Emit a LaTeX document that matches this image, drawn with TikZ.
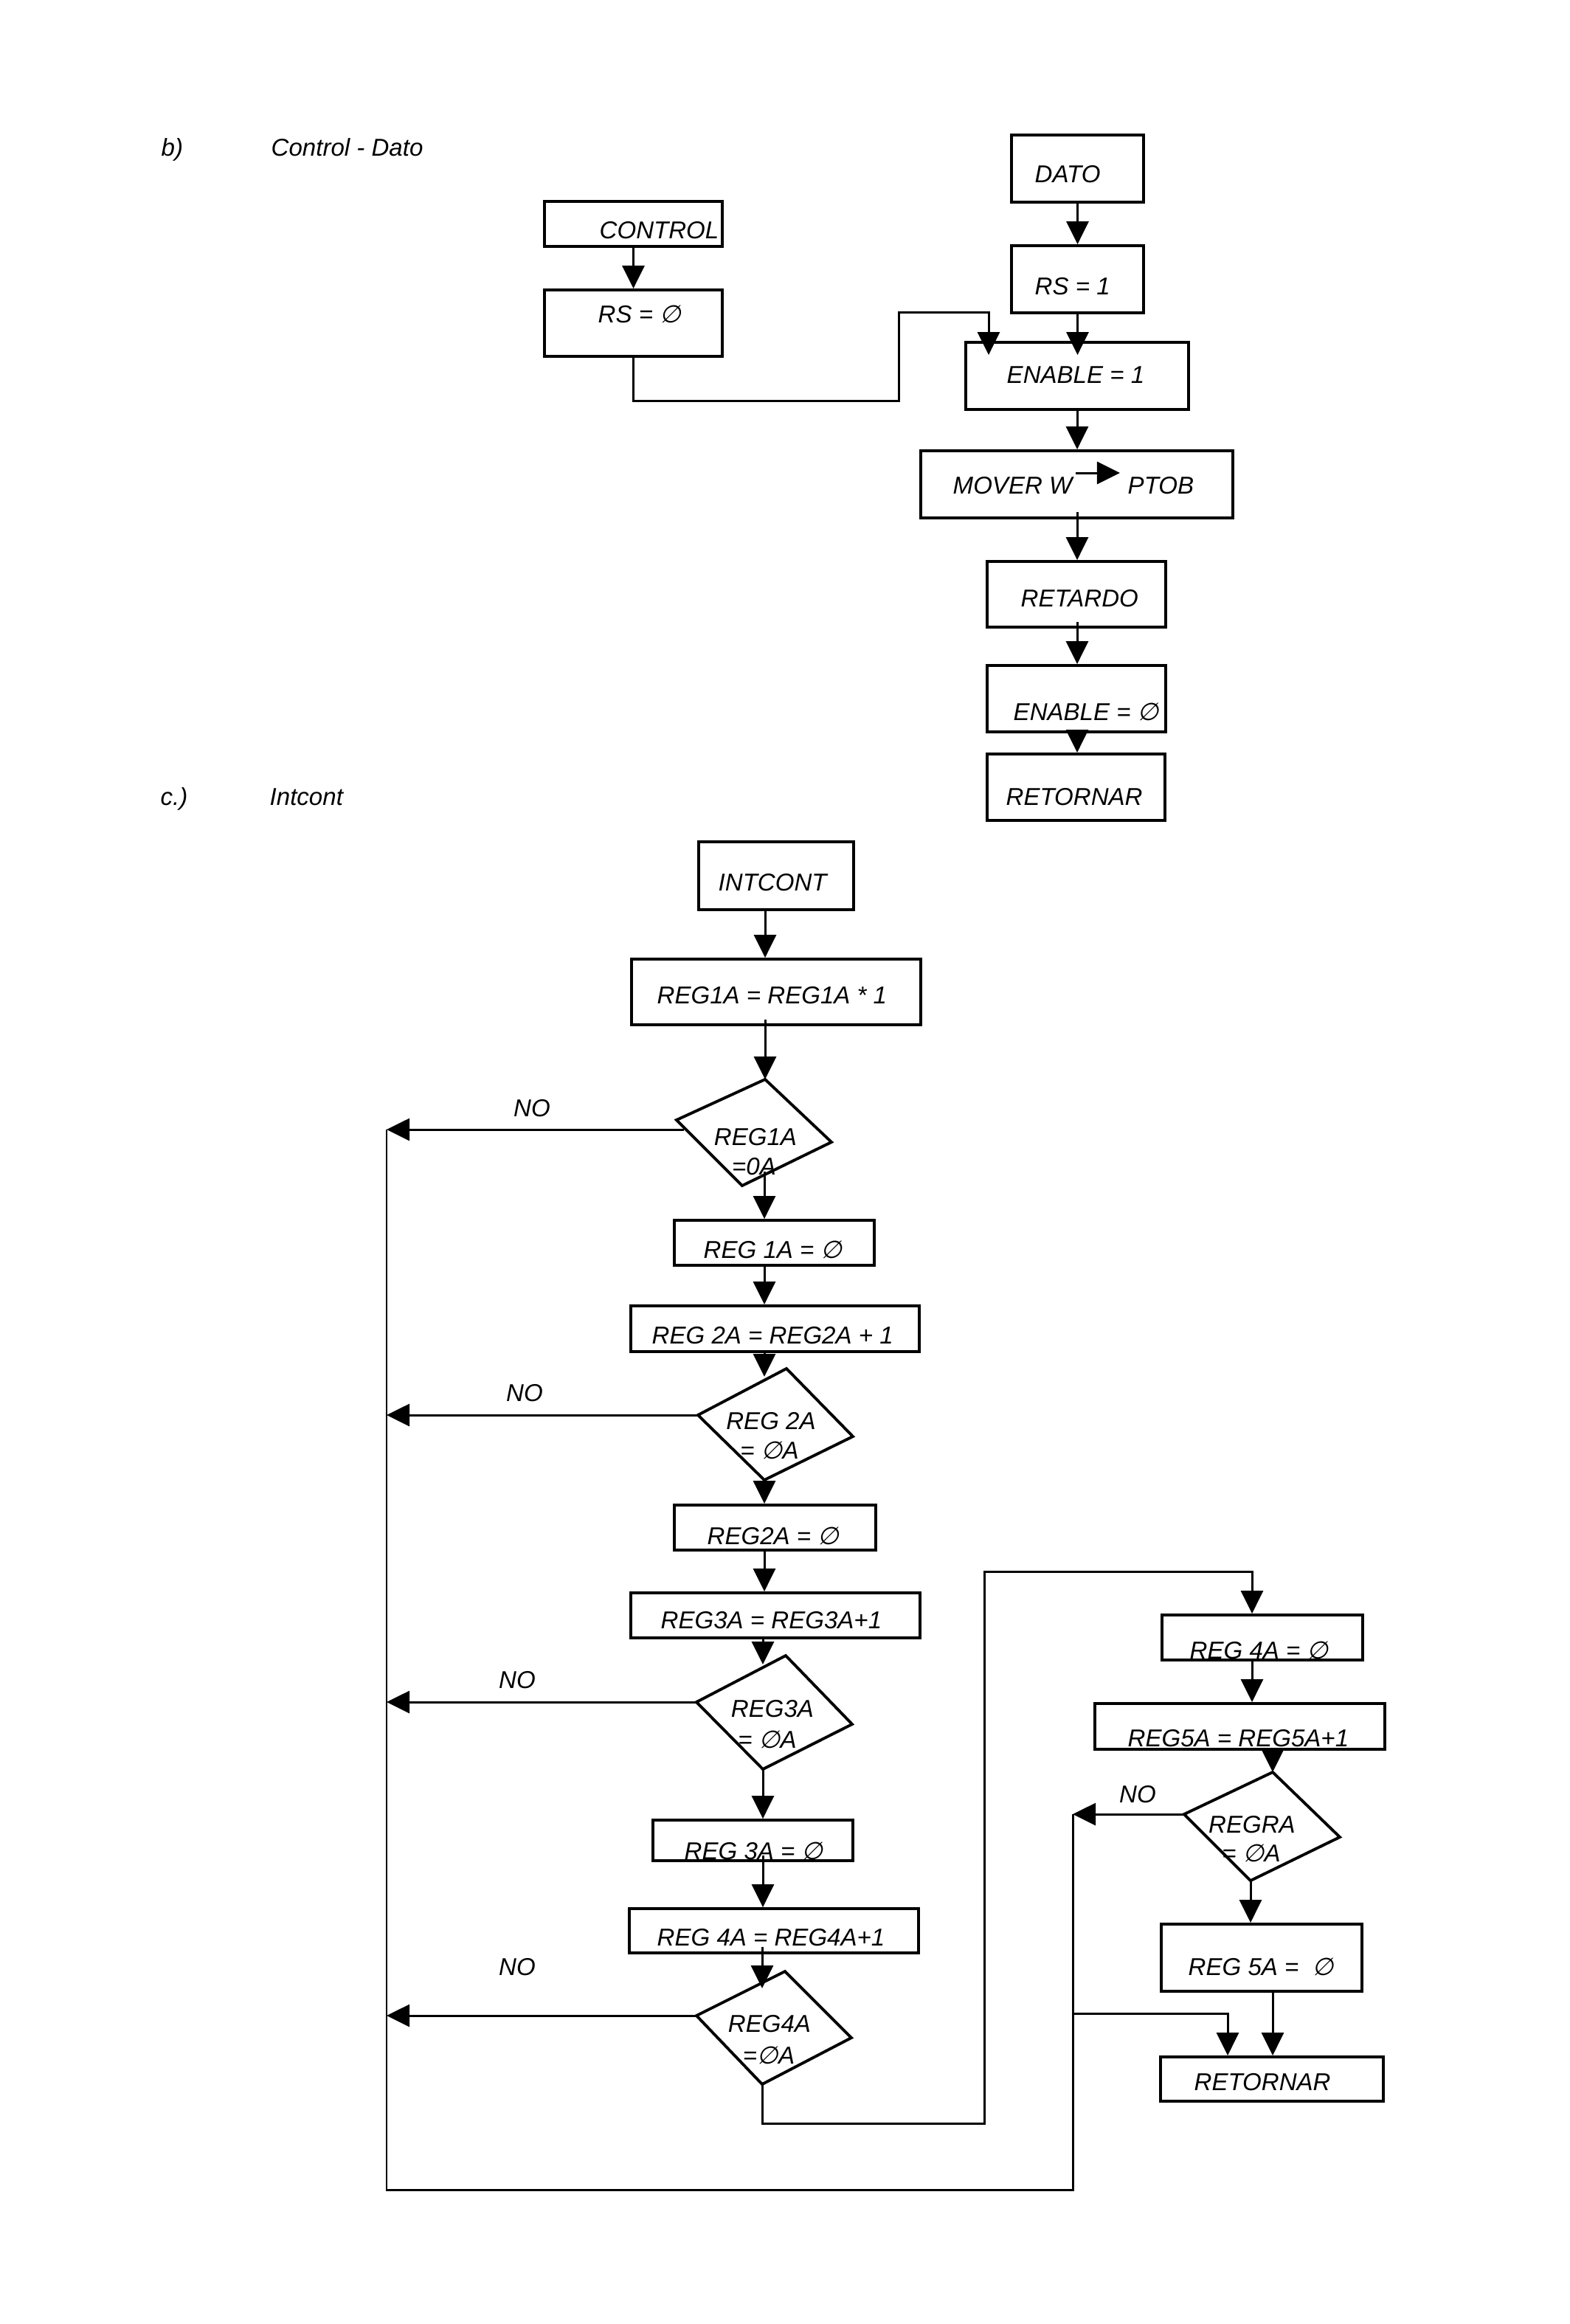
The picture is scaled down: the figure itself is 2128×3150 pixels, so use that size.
\documentclass[tikz,border=0pt]{standalone}
\usepackage{fontspec}
\setmainfont{Liberation Sans}
\newfontfamily\dvs{DejaVu Sans}[FakeSlant=0.2]
\usetikzlibrary{arrows.meta,calc,fit}
\newcommand\vz{{\dvs ∅}}
\begin{document}
\begin{tikzpicture}[x=0.01cm,y=-0.01cm,
  box/.style={draw,line width=1.1pt,inner sep=0pt},
  txt/.style={font=\fontsize{9.4}{11}\selectfont\itshape,inner sep=0pt,text height=6.8pt,text depth=0pt,anchor=west},
  ctxt/.style={txt,anchor=center},
  arr/.style={line width=0.85pt,-{Triangle[length=0.31cm,width=0.30cm]}},
  ln/.style={line width=0.85pt},
  dia/.style={line width=1.1pt,line join=miter}]
\fill[white] (0,0) rectangle (2128,3150);
\useasboundingbox (0,0) rectangle (2128,3150);

% ---------- b) Control - Dato ----------
\node[txt] (hb) at (218,200) {b)};
\node[txt] (hbt) at (367,200) {Control - Dato};

\node[box,fit={(738,273)(979,334)}] (ctrl) {};
\node[txt] (tctrl) at (812,312) {CONTROL};
\node[box,fit={(738,393)(979,483)}] (rs0) {};
\node[txt] (trs0) at (810,426) {RS = \vz};

\node[box,fit={(1371,183)(1550,274)}] (dato) {};
\node[txt] (tdato) at (1402,236) {DATO};
\node[box,fit={(1371,333)(1550,424)}] (rs1) {};
\node[txt] (trs1) at (1402,388) {RS = 1};
\node[box,fit={(1309,464)(1611,555)}] (en1) {};
\node[txt] (ten1) at (1364,508) {ENABLE = 1};
\node[box,fit={(1248,611)(1671,702)}] (mov) {};
\node[txt] (tmov) at (1291,658) {MOVER W};
\node[txt] (tptob) at (1528,658) {PTOB};
\coordinate (mvA) at (1458,641);
\coordinate (mvB) at (1518,641);
\draw[arr] (mvA) -- (mvB);
\node[box,fit={(1338,761)(1580,850)}] (ret) {};
\node[txt] (tret) at (1383,811) {RETARDO};
\node[box,fit={(1338,902)(1580,992)}] (en0) {};
\node[txt] (ten0) at (1373,965) {ENABLE = \vz};
\node[box,fit={(1338,1022)(1579,1112)}] (rtn1) {};
\node[txt] (trtn1) at (1363,1080) {RETORNAR};

\draw[arr] (ctrl.south) -- (rs0.north);
\draw[arr] (dato.south) -- (rs1.north);
\coordinate (cA) at (1218,543);
\coordinate (cB) at (1340,423);
\draw[arr] (rs0.south) |- (cA) -- (cA |- cB) -- (cB) -- ($(cB |- en1.north)+(0,19)$);
\draw[arr] (rs1.south) -- ($(rs1.south |- en1.north)+(0,19)$);
\draw[arr] (en1.south) -- (mov.north -| en1.south);
\draw[arr] ($(mov.south -| en1.south)+(0,-10)$) -- (ret.north -| en1.south);
\draw[arr] ($(ret.south -| en1.south)+(0,-9)$) -- (en0.north -| en1.south);
\draw[arr] (en0.south -| en1.south) -- (rtn1.north -| en1.south);

% ---------- c.) Intcont ----------
\node[txt] (hc) at (217,1080) {c.)};
\node[txt] (hct) at (365,1080) {Intcont};

\node[box,fit={(947,1141)(1157,1233)}] (intc) {};
\node[txt] (tintc) at (973,1196) {INTCONT};
\node[box,fit={(856,1300)(1248,1389)}] (r1) {};
\node[txt] (tr1) at (890,1349) {REG1A = REG1A * 1};

\coordinate (d1t) at (1037,1463);
\coordinate (d1r) at (1127,1548);
\coordinate (d1b) at (1006,1607);
\coordinate (d1l) at (917,1518);
\draw[dia] (d1t) -- (d1r) -- (d1b) -- (d1l) -- cycle;
\node[ctxt] (td1a) at (1024,1541) {REG1A};
\node[ctxt] (td1b) at (1022,1581) {=0A};

\node[box,fit={(914,1654)(1185,1715)}] (z1) {};
\node[txt] (tz1) at (953,1694) {REG 1A = \vz};
\node[box,fit={(855,1770)(1246,1832)}] (r2) {};
\node[txt] (tr2) at (883,1810) {REG 2A = REG2A + 1};

\coordinate (d2t) at (1066,1855);
\coordinate (d2r) at (1156,1947);
\coordinate (d2b) at (1036,2006);
\coordinate (d2l) at (946,1918);
\draw[dia] (d2t) -- (d2r) -- (d2b) -- (d2l) -- cycle;
\node[ctxt] (td2a) at (1045,1926) {REG 2A};
\node[ctxt] (td2b) at (1043,1966) {= \vz A};

\node[box,fit={(914,2040)(1187,2101)}] (z2) {};
\node[txt] (tz2) at (958,2082) {REG2A = \vz};
\node[box,fit={(855,2159)(1247,2220)}] (r3) {};
\node[txt] (tr3) at (895,2196) {REG3A = REG3A+1};

\coordinate (d3t) at (1065,2244);
\coordinate (d3r) at (1155,2337);
\coordinate (d3b) at (1034,2398);
\coordinate (d3l) at (944,2307);
\draw[dia] (d3t) -- (d3r) -- (d3b) -- (d3l) -- cycle;
\node[ctxt] (td3a) at (1047,2316) {REG3A};
\node[ctxt] (td3b) at (1040,2358) {= \vz A};

\node[box,fit={(885,2467)(1156,2522)}] (z3) {};
\node[txt] (tz3) at (927,2509) {REG 3A = \vz};
\node[box,fit={(853,2587)(1245,2647)}] (r4) {};
\node[txt] (tr4) at (890,2626) {REG 4A = REG4A+1};

\coordinate (d4t) at (1064,2672);
\coordinate (d4r) at (1154,2762);
\coordinate (d4b) at (1033,2825);
\coordinate (d4l) at (944,2732);
\draw[dia] (d4t) -- (d4r) -- (d4b) -- (d4l) -- cycle;
\node[ctxt] (td4a) at (1043,2743) {REG4A};
\node[ctxt] (td4b) at (1042,2786) {=\vz A};

\node[box,fit={(1575,2189)(1847,2250)}] (z4) {};
\node[txt] (tz4) at (1612,2237) {REG 4A = \vz};
\node[box,fit={(1484,2309)(1877,2371)}] (r5) {};
\node[txt] (tr5) at (1528,2356) {REG5A = REG5A+1};

\coordinate (d5t) at (1725,2402);
\coordinate (d5r) at (1816,2490);
\coordinate (d5b) at (1695,2549);
\coordinate (d5l) at (1605,2459);
\draw[dia] (d5t) -- (d5r) -- (d5b) -- (d5l) -- cycle;
\node[ctxt] (td5a) at (1697,2473) {REGRA};
\node[ctxt] (td5b) at (1696,2512) {= \vz A};

\node[box,fit={(1574,2608)(1846,2699)}] (z5) {};
\node[txt] (tz5) at (1610,2666) {REG 5A = \ \vz};
\node[box,fit={(1573,2788)(1875,2848)}] (rtn2) {};
\node[txt] (trtn2) at (1618,2822) {RETORNAR};

% NO labels
\node[ctxt] (no1) at (721,1502) {NO};
\node[ctxt] (no2) at (711,1888) {NO};
\node[ctxt] (no3) at (701,2277) {NO};
\node[ctxt] (no4) at (701,2666) {NO};
\node[ctxt] (no5) at (1542,2432) {NO};

% main flow
\draw[arr] (intc.south -| d1t) -- (r1.north -| d1t);
\draw[arr] ($(r1.south -| d1t)+(0,-9)$) -- (d1t);
\coordinate (d1o) at (1036,1588);
\draw[arr] (d1o) -- (d1o |- z1.north);
\draw[arr] (z1.south -| d1o) -- (r2.north -| d1o);
\coordinate (d2i) at (1036,1866);
\draw[arr] (r2.south -| d2i) -- (d2i);
\draw[arr] (d2b) -- (d2b |- z2.north);
\draw[arr] (z2.south -| d2b) -- (r3.north -| d2b);
\coordinate (d3i) at (1034,2256);
\draw[arr] (r3.south -| d3i) -- (d3i);
\draw[arr] (d3b) -- (d3b |- z3.north);
\draw[arr] ($(z3.south -| d3b)+(0,-9)$) -- (r4.north -| d3b);
\coordinate (d4i) at (1033,2695);
\draw[arr] ($(r4.south -| d4i)+(0,-10)$) -- (d4i);
\coordinate (lpA) at (1334,2878);
\coordinate (lpB) at (1697,2130);
\draw[arr] (d4b) |- (lpA) |- (lpB) -- (lpB |- z4.north);
\draw[arr] (z4.south -| lpB) -- (r5.north -| lpB);
\draw[arr] (r5.south -| d5t) -- (d5t);
\draw[arr] (d5b) -- (d5b |- z5.north);
\draw[arr] (z5.south -| d5t) -- (rtn2.north -| d5t);

% NO branches and bus
\coordinate (bus1) at (524,1531);
\coordinate (n1) at (927,1531);
\coordinate (busE) at (524,2968);
\coordinate (busF) at (1454,2968);
\draw[ln] (bus1) -- (busE) -- (busF) -- (busF |- d5l);
\draw[arr] (n1) -- (bus1);
\draw[arr] (d2l) -- (d2l -| bus1);
\draw[arr] (d3l) -- (d3l -| bus1);
\draw[arr] (d4l) -- (d4l -| bus1);
\draw[arr] (d5l) -- (d5l -| busF);
\coordinate (brA) at (1454,2729);
\coordinate (brB) at (1664,2729);
\draw[arr] (brA) -- (brB) -- (brB |- rtn2.north);
\end{tikzpicture}
\end{document}
